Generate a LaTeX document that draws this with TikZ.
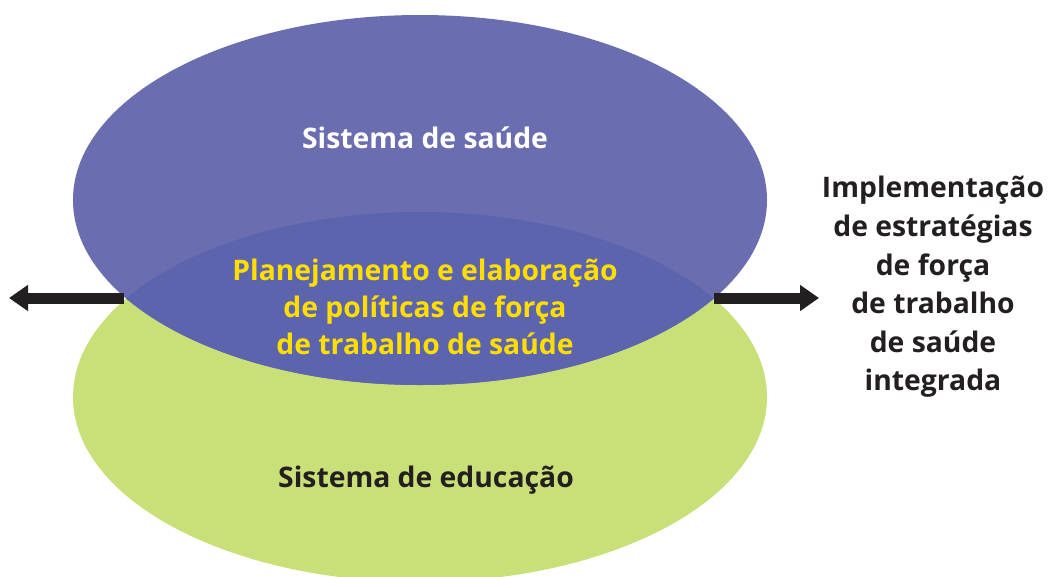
\documentclass[tikz,border=0pt]{standalone}
\usepackage{fontspec}
\setmainfont{Open Sans}
\usetikzlibrary{arrows.meta}
\definecolor{saudeblue}{HTML}{6A6EB0}
\definecolor{overlapblue}{HTML}{5C64AE}
\definecolor{educgreen}{HTML}{C9DF77}
\definecolor{textyellow}{HTML}{FFDE00}
\definecolor{textdark}{HTML}{231F20}
\tikzset{
  label/.style={align=center,inner sep=0pt,font=\fontsize{28.3}{37}\selectfont\bfseries},
  bigarrow/.style={textdark,line width=11pt,-{Triangle[length=19pt,width=25pt]}}
}
\begin{document}
\begin{tikzpicture}[x=1pt,y=-1pt]
    \useasboundingbox (0,0) rectangle (1048,576);
    \clip (0,0) rectangle (1048,576);
    \fill[educgreen] (420,397) ellipse (347 and 185);
    \fill[saudeblue] (420,200) ellipse (347 and 185);
    \begin{scope}
        \clip (420,397) ellipse (347 and 185);
        \fill[overlapblue] (420,200) ellipse (347 and 185);
    \end{scope}
    \coordinate (leftbase) at (124,298);
    \coordinate (lefttip) at (9,298);
    \coordinate (rightbase) at (714,298);
    \coordinate (righttip) at (819,298);
    \draw[bigarrow] (leftbase) -- (lefttip);
    \draw[bigarrow] (rightbase) -- (righttip);
    \node[label,text=white] (saude) at (425,138) {Sistema de saúde};
    \node[label,text=textyellow] (planejamento) at (425,307) {Planejamento e elaboração\\de políticas de força\\de trabalho de saúde};
    \node[label,text=textdark] (educacao) at (426,480) {Sistema de educação};
    \node[label,text=textdark,font=\fontsize{28.3}{38.6}\selectfont\bfseries] (implementacao) at (933,287) {Implementação\\de estratégias\\de força\\de trabalho\\de saúde\\integrada};
\end{tikzpicture}
\end{document}
